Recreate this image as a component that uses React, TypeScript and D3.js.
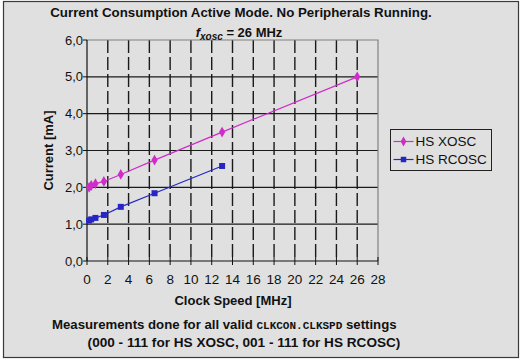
import { useEffect, useRef } from 'react'
import * as d3 from 'd3'

// clock speeds (MHz) for each CLKSPD setting
const xoscSpeeds = [0.203, 0.406, 0.8125, 1.625, 3.25, 6.5, 13, 26]
const xoscCurrent = [2.0, 2.05, 2.1, 2.16, 2.35, 2.74, 3.5, 5.0]
const rcoscSpeeds = [0.203, 0.406, 0.8125, 1.625, 3.25, 6.5, 13]
const rcoscCurrent = [1.1, 1.13, 1.17, 1.25, 1.47, 1.84, 2.58]

const xTicks = [0, 2, 4, 6, 8, 10, 12, 14, 16, 18, 20, 22, 24, 26, 28]
const yTicks = [0, 1, 2, 3, 4, 5, 6]

const MAGENTA = '#d02cc8'
const BLUE = '#2626c4'
const FONT = 'Arial, "Liberation Sans", Helvetica, sans-serif'

function App() {
  const ref = useRef<SVGSVGElement>(null)

  useEffect(() => {
    if (!ref.current) return
    const svg = d3.select(ref.current)
    svg.selectAll('*').remove()

    const x = d3.scaleLinear().domain([0, 28]).range([87, 378])
    const y = d3.scaleLinear().domain([0, 6]).range([261, 40])

    // figure frame
    svg.append('rect')
      .attr('x', 3.5).attr('y', 1.5)
      .attr('width', 515).attr('height', 356)
      .attr('fill', '#e0e0e0')
      .attr('stroke', '#3a3a3a')
      .attr('stroke-width', 1.2)

    // horizontal grid
    svg.append('g')
      .selectAll('line')
      .data(yTicks.filter(d => d > 0 && d < 6))
      .enter()
      .append('line')
      .attr('x1', x(0)).attr('x2', x(28))
      .attr('y1', d => y(d)).attr('y2', d => y(d))
      .attr('stroke', '#1a1a1a')
      .attr('stroke-width', 1.1)

    // vertical dashed grid
    svg.append('g')
      .selectAll('line')
      .data(xTicks.filter(d => d > 0 && d < 28))
      .enter()
      .append('line')
      .attr('x1', d => x(d)).attr('x2', d => x(d))
      .attr('y1', y(6)).attr('y2', y(0))
      .attr('stroke', '#1a1a1a')
      .attr('stroke-width', 1.4)
      .attr('stroke-dasharray', '13,4')

    // top and right borders of plot
    svg.append('path')
      .attr('d', `M${x(0)},${y(6)}H${x(28)}V${y(0)}`)
      .attr('fill', 'none')
      .attr('stroke', '#808080')
      .attr('stroke-width', 1.2)

    // y axis
    svg.append('line')
      .attr('x1', x(0)).attr('x2', x(0))
      .attr('y1', y(6)).attr('y2', y(0))
      .attr('stroke', '#111').attr('stroke-width', 1.2)
    svg.append('g')
      .selectAll('line')
      .data(yTicks)
      .enter()
      .append('line')
      .attr('x1', x(0) - 4).attr('x2', x(0))
      .attr('y1', d => y(d)).attr('y2', d => y(d))
      .attr('stroke', '#111')
    svg.append('g')
      .selectAll('text')
      .data(yTicks)
      .enter()
      .append('text')
      .attr('x', x(0) - 4)
      .attr('y', d => y(d))
      .attr('dy', '0.35em')
      .attr('text-anchor', 'end')
      .attr('font-family', FONT)
      .attr('font-size', 13)
      .attr('fill', '#111')
      .text(d => d.toFixed(1).replace('.', ','))

    // x axis
    svg.append('line')
      .attr('x1', x(0)).attr('x2', x(28))
      .attr('y1', y(0)).attr('y2', y(0))
      .attr('stroke', '#111').attr('stroke-width', 1.2)
    svg.append('g')
      .selectAll('line')
      .data(xTicks)
      .enter()
      .append('line')
      .attr('x1', d => x(d)).attr('x2', d => x(d))
      .attr('y1', y(0) - 4).attr('y2', y(0) + 4)
      .attr('stroke', '#111')
    svg.append('g')
      .selectAll('text')
      .data(xTicks)
      .enter()
      .append('text')
      .attr('x', d => x(d))
      .attr('y', y(0) + 23)
      .attr('text-anchor', 'middle')
      .attr('font-family', FONT)
      .attr('font-size', 13.5)
      .attr('fill', '#111')
      .text(d => d)

    // series
    const series = [
      { name: 'HS XOSC', xs: xoscSpeeds, ys: xoscCurrent, color: MAGENTA, symbol: d3.symbolDiamond, size: 34 },
      { name: 'HS RCOSC', xs: rcoscSpeeds, ys: rcoscCurrent, color: BLUE, symbol: d3.symbolSquare, size: 36 },
    ]
    const line = d3.line<number[]>().x(d => x(d[0])).y(d => y(d[1]))

    series.forEach(s => {
      const pts = s.xs.map((v, i) => [v, s.ys[i]])
      svg.append('path')
        .attr('d', line(pts))
        .attr('fill', 'none')
        .attr('stroke', s.color)
        .attr('stroke-width', 1.2)
      svg.append('g')
        .selectAll('path')
        .data(pts)
        .enter()
        .append('path')
        .attr('transform', d => `translate(${x(d[0])},${y(d[1])})`)
        .attr('d', d3.symbol().type(s.symbol).size(s.size)())
        .attr('fill', s.color)
    })

    // legend
    const lg = svg.append('g').attr('transform', 'translate(390.5,129.5)')
    lg.append('rect')
      .attr('width', 101).attr('height', 41)
      .attr('fill', '#e0e0e0')
      .attr('stroke', '#222')
      .attr('stroke-width', 1)
    series.forEach((s, i) => {
      const cy = 12 + i * 18
      lg.append('line')
        .attr('x1', 3).attr('x2', 23)
        .attr('y1', cy).attr('y2', cy)
        .attr('stroke', s.color).attr('stroke-width', 1.2)
      lg.append('path')
        .attr('transform', `translate(13,${cy})`)
        .attr('d', d3.symbol().type(s.symbol).size(s.size - 6)())
        .attr('fill', s.color)
      lg.append('text')
        .attr('x', 25).attr('y', cy)
        .attr('dy', '0.35em')
        .attr('font-family', FONT)
        .attr('font-size', 13.5)
        .attr('fill', '#111')
        .text(s.name)
    })

    // titles
    svg.append('text')
      .attr('x', 241).attr('y', 17)
      .attr('text-anchor', 'middle')
      .attr('font-family', FONT)
      .attr('font-size', 13.3)
      .attr('font-weight', 'bold')
      .attr('fill', '#111')
      .text('Current Consumption Active Mode. No Peripherals Running.')

    const sub = svg.append('text')
      .attr('x', 239).attr('y', 37)
      .attr('text-anchor', 'middle')
      .attr('font-family', FONT)
      .attr('font-size', 13)
      .attr('font-weight', 'bold')
      .attr('fill', '#111')
    sub.append('tspan').attr('font-style', 'italic').text('f')
    sub.append('tspan').attr('font-style', 'italic').attr('font-size', 10).attr('dy', 3).text('xosc')
    sub.append('tspan').attr('dy', -3).text(' = 26 MHz')

    svg.append('text')
      .attr('transform', `translate(53,${(y(0) + y(6)) / 2}) rotate(-90)`)
      .attr('text-anchor', 'middle')
      .attr('font-family', FONT)
      .attr('font-size', 13)
      .attr('font-weight', 'bold')
      .attr('fill', '#111')
      .text('Current [mA]')

    svg.append('text')
      .attr('x', 233).attr('y', 305)
      .attr('text-anchor', 'middle')
      .attr('font-family', FONT)
      .attr('font-size', 13)
      .attr('font-weight', 'bold')
      .attr('fill', '#111')
      .text('Clock Speed [MHz]')

    // footnote
    const f1 = svg.append('text')
      .attr('x', 52).attr('y', 329)
      .attr('font-family', FONT)
      .attr('font-size', 13.2)
      .attr('font-weight', 'bold')
      .attr('fill', '#111')
    f1.append('tspan').text('Measurements done for all valid ')
    f1.append('tspan').attr('font-family', '"Liberation Mono", "Courier New", monospace').attr('font-size', 11).text('CLKCON.CLKSPD')
    f1.append('tspan').text(' settings')

    svg.append('text')
      .attr('x', 244).attr('y', 347)
      .attr('text-anchor', 'middle')
      .attr('font-family', FONT)
      .attr('font-size', 13.6)
      .attr('font-weight', 'bold')
      .attr('fill', '#111')
      .text('(000 - 111 for HS XOSC, 001 - 111 for HS RCOSC)')
  }, [])

  return (
    <>
      <style>{`body { margin: 0; background: #fff; }`}</style>
      <svg ref={ref} width={522} height={361} style={{ display: 'block' }} />
    </>
  )
}

export default App
